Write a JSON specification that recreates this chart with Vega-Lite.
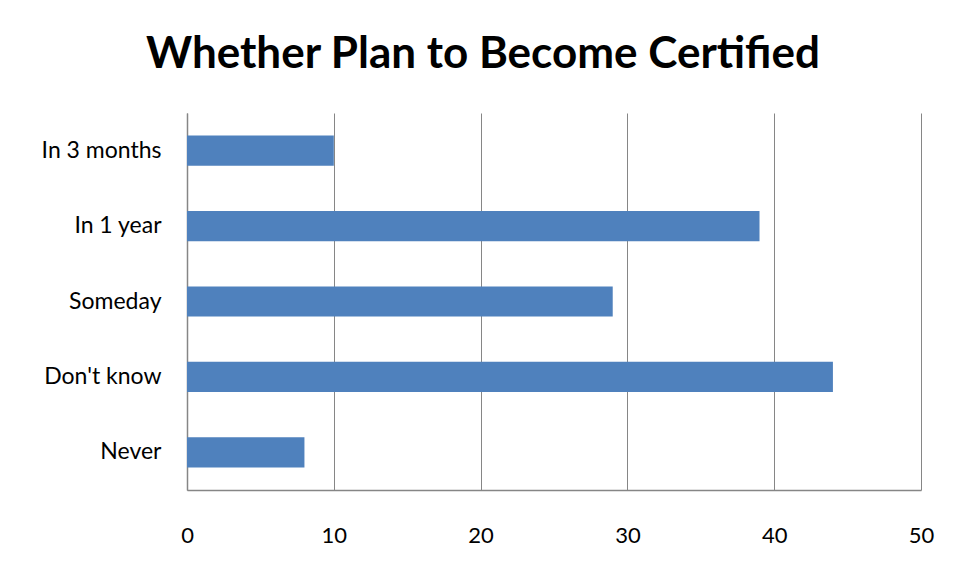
{
  "$schema": "https://vega.github.io/schema/vega-lite/v6.json",
  "autosize": "none",
  "width": 734,
  "height": 377,
  "padding": {"left": 187, "top": 113, "right": 42, "bottom": 87},
  "background": "white",
  "title": {
    "text": "Whether Plan to Become Certified",
    "font": "Lato",
    "fontSize": 44,
    "fontWeight": "bold",
    "color": "black",
    "anchor": "middle",
    "dx": -71,
    "offset": 36
  },
  "data": {
    "values": [
      {"category": "In 3 months", "value": 10},
      {"category": "In 1 year", "value": 39},
      {"category": "Someday", "value": 29},
      {"category": "Don't know", "value": 44},
      {"category": "Never", "value": 8}
    ]
  },
  "mark": {"type": "bar", "color": "#4F81BD"},
  "encoding": {
    "y": {
      "field": "category",
      "type": "nominal",
      "sort": null,
      "scale": {"paddingInner": 0.6, "paddingOuter": 0.3},
      "axis": {
        "title": null,
        "ticks": false,
        "labelFont": "Lato",
        "labelFontSize": 23,
        "labelColor": "black",
        "labelPadding": 26,
        "domainColor": "#868686",
        "domainWidth": 1.5,
        "grid": false
      }
    },
    "x": {
      "field": "value",
      "type": "quantitative",
      "scale": {"domain": [0, 50], "nice": false},
      "axis": {
        "title": null,
        "values": [0, 10, 20, 30, 40, 50],
        "ticks": false,
        "labelFont": "Lato",
        "labelFontSize": 22,
        "labelColor": "black",
        "labelPadding": 35,
        "labelFlush": false,
        "domainColor": "#868686",
        "domainWidth": 1.5,
        "grid": true,
        "gridColor": "#868686",
        "gridWidth": 1
      }
    }
  },
  "config": {"view": {"stroke": null}}
}
